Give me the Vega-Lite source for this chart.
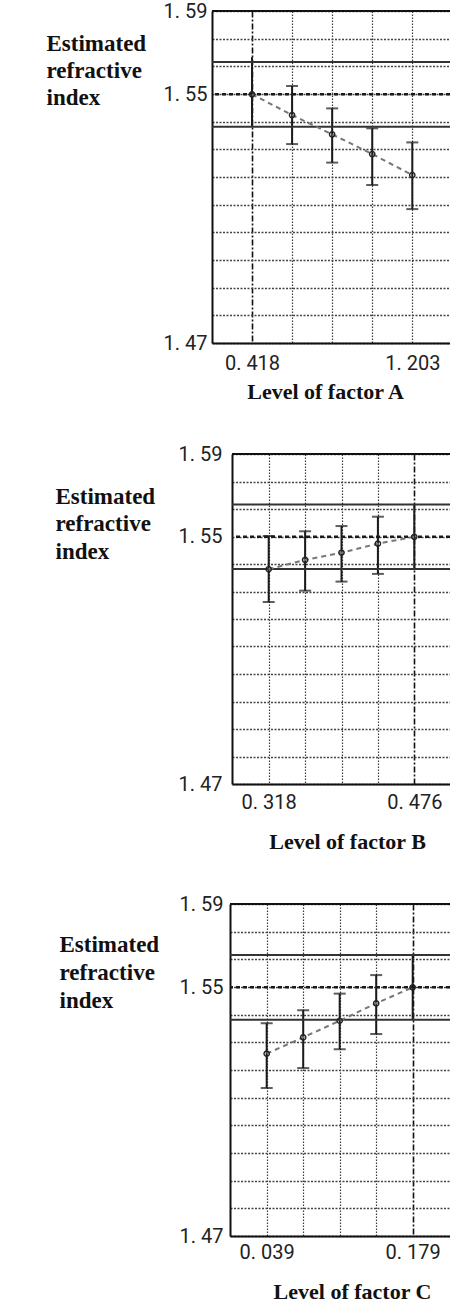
{
  "$schema": "https://vega.github.io/schema/vega-lite/v6.json",
  "background": "white",
  "padding": {"left": 0, "top": 1, "right": 0, "bottom": 0},
  "datasets": {
    "A": [
      {"lvl": 0.418, "est": 1.5599, "lo": 1.5482, "hi": 1.5733, "cur": true},
      {"lvl": 0.61425, "est": 1.5524, "lo": 1.5419, "hi": 1.5629, "cur": false},
      {"lvl": 0.8105, "est": 1.5454, "lo": 1.5352, "hi": 1.5548, "cur": false},
      {"lvl": 1.00675, "est": 1.5383, "lo": 1.5271, "hi": 1.5476, "cur": false},
      {"lvl": 1.203, "est": 1.5307, "lo": 1.5184, "hi": 1.5425, "cur": false}
    ],
    "B": [
      {"lvl": 0.318, "est": 1.5481, "lo": 1.5362, "hi": 1.5602, "cur": false},
      {"lvl": 0.3575, "est": 1.5515, "lo": 1.5403, "hi": 1.5619, "cur": false},
      {"lvl": 0.397, "est": 1.5541, "lo": 1.5436, "hi": 1.5638, "cur": false},
      {"lvl": 0.4365, "est": 1.5574, "lo": 1.5464, "hi": 1.5672, "cur": false},
      {"lvl": 0.476, "est": 1.5599, "lo": 1.5483, "hi": 1.5718, "cur": true}
    ],
    "C": [
      {"lvl": 0.039, "est": 1.5359, "lo": 1.5235, "hi": 1.5469, "cur": false},
      {"lvl": 0.074, "est": 1.5418, "lo": 1.5307, "hi": 1.5516, "cur": false},
      {"lvl": 0.109, "est": 1.5478, "lo": 1.5375, "hi": 1.5576, "cur": false},
      {"lvl": 0.144, "est": 1.5541, "lo": 1.543, "hi": 1.5643, "cur": false},
      {"lvl": 0.179, "est": 1.5599, "lo": 1.5484, "hi": 1.5716, "cur": true}
    ],
    "refs": [
      {"v": 1.5716, "kind": "limit"},
      {"v": 1.5482, "kind": "limit"},
      {"v": 1.5599, "kind": "estimate"},
      {"v": 1.59, "kind": "frame"}
    ]
  },
  "vconcat": [
    {
      "spacing": 0,
      "hconcat": [
        {"width": 46, "height": 1, "data": {"values": [{"s": 1}]}, "mark": {"type": "point", "opacity": 0}, "encoding": {}},
        {
          "width": 238, "height": 332,
          "data": {"name": "A"},
          "layer": [
            {"mark": {"type": "rule", "color": "#1a1a1a", "strokeWidth": 2},
             "encoding": {
               "x": {"field": "lvl", "type": "quantitative", "scale": {"domain": [0.22212, 1.38762], "nice": false, "zero": false},
                     "axis": {"values": [0.418, 0.61425, 0.8105, 1.00675, 1.203], "tickCount": 20,
                              "labelExpr": "datum.value == 0.418 || datum.value == 1.203 ? replace(format(datum.value, '.3f'), '.', '. ') : ''",
                              "labelPadding": 10, "title": "Level of factor A", "titleX": 113, "titleY": 55, "titleBaseline": "alphabetic", "titleAlign": "center",
                              "gridDash": {"condition": {"test": "datum.value == 0.418", "value": [6, 2, 2, 2]}, "value": [1.5, 1.5]},
                              "gridColor": {"condition": {"test": "datum.value == 0.418", "value": "#111"}, "value": "#3a3a3a"},
                              "gridWidth": {"condition": {"test": "datum.value == 0.418", "value": 1.6}, "value": 1.2}}},
               "y": {"field": "lo", "type": "quantitative", "scale": {"domain": [1.47, 1.59], "nice": false, "zero": false},
                     "axis": {"values": [1.47, 1.48, 1.49, 1.5, 1.51, 1.52, 1.53, 1.54, 1.55, 1.5599, 1.57, 1.58, 1.59], "tickCount": 40,
                              "labelExpr": "datum.value == 1.47 || datum.value == 1.5599 || datum.value == 1.59 ? replace(format(floor(datum.value * 100 + 0.001) / 100, '.2f'), '.', '. ') : ''",
                              "labelPadding": 5, "title": ["Estimated", "refractive", "index"], "titleAngle": 0, "titleAlign": "left", "titleBaseline": "alphabetic",
                              "titleX": -166, "titleY": 39, "titleLineHeight": 27, "titleFontSize": 23,
                              "gridWidth": 1.5, "gridDash": [2, 1.5], "gridColor": "#444"}},
               "y2": {"field": "hi"}}},
            {"transform": [{"filter": "!datum.cur"}], "mark": {"type": "tick", "orient": "horizontal", "size": 12, "thickness": 2, "color": "#1a1a1a"},
             "encoding": {"x": {"field": "lvl", "type": "quantitative"}, "y": {"field": "lo", "type": "quantitative"}}},
            {"transform": [{"filter": "!datum.cur"}], "mark": {"type": "tick", "orient": "horizontal", "size": 12, "thickness": 2, "color": "#1a1a1a"},
             "encoding": {"x": {"field": "lvl", "type": "quantitative"}, "y": {"field": "hi", "type": "quantitative"}}},
            {"data": {"name": "refs"}, "transform": [{"filter": "datum.kind == 'limit'"}], "mark": {"type": "rule", "color": "#333", "strokeWidth": 2},
             "encoding": {"y": {"field": "v", "type": "quantitative"}}},
            {"data": {"name": "refs"}, "transform": [{"filter": "datum.kind == 'estimate'"}], "mark": {"type": "rule", "color": "#1a1a1a", "strokeWidth": 2.5, "strokeDash": [4, 3]},
             "encoding": {"y": {"field": "v", "type": "quantitative"}}},
            {"data": {"name": "refs"}, "transform": [{"filter": "datum.kind == 'frame'"}], "mark": {"type": "rule", "color": "#111", "strokeWidth": 2},
             "encoding": {"y": {"field": "v", "type": "quantitative"}}},
            {"mark": {"type": "line", "color": "#777", "strokeDash": [5, 4], "strokeWidth": 2},
             "encoding": {"x": {"field": "lvl", "type": "quantitative"}, "y": {"field": "est", "type": "quantitative"}}},
            {"mark": {"type": "point", "shape": "circle", "filled": false, "size": 28, "strokeWidth": 1.4, "color": "#222", "opacity": 1},
             "encoding": {"x": {"field": "lvl", "type": "quantitative"}, "y": {"field": "est", "type": "quantitative"}}}
          ]
        }
      ]
    },
    {
      "spacing": 0,
      "hconcat": [
        {"width": 55, "height": 1, "data": {"values": [{"s": 1}]}, "mark": {"type": "point", "opacity": 0}, "encoding": {}},
        {
          "width": 218, "height": 330,
          "data": {"name": "B"},
          "layer": [
            {"mark": {"type": "rule", "color": "#1a1a1a", "strokeWidth": 2},
             "encoding": {
               "x": {"field": "lvl", "type": "quantitative", "scale": {"domain": [0.27817, 0.51474], "nice": false, "zero": false},
                     "axis": {"values": [0.318, 0.3575, 0.397, 0.4365, 0.476], "tickCount": 20,
                              "labelExpr": "datum.value == 0.318 || datum.value == 0.476 ? replace(format(datum.value, '.3f'), '.', '. ') : ''",
                              "labelPadding": 8, "title": "Level of factor B", "titleX": 115, "titleY": 64, "titleBaseline": "alphabetic", "titleAlign": "center",
                              "gridDash": {"condition": {"test": "datum.value == 0.476", "value": [6, 2, 2, 2]}, "value": [1.5, 1.5]},
                              "gridColor": {"condition": {"test": "datum.value == 0.476", "value": "#111"}, "value": "#3a3a3a"},
                              "gridWidth": {"condition": {"test": "datum.value == 0.476", "value": 1.6}, "value": 1.2}}},
               "y": {"field": "lo", "type": "quantitative", "scale": {"domain": [1.47, 1.59], "nice": false, "zero": false},
                     "axis": {"values": [1.47, 1.48, 1.49, 1.5, 1.51, 1.52, 1.53, 1.54, 1.55, 1.5599, 1.57, 1.58, 1.59], "tickCount": 40,
                              "labelExpr": "datum.value == 1.47 || datum.value == 1.5599 || datum.value == 1.59 ? replace(format(floor(datum.value * 100 + 0.001) / 100, '.2f'), '.', '. ') : ''",
                              "labelPadding": 10, "title": ["Estimated", "refractive", "index"], "titleAngle": 0, "titleAlign": "left", "titleBaseline": "alphabetic",
                              "titleX": -177, "titleY": 49, "titleLineHeight": 27.5, "titleFontSize": 23,
                              "gridWidth": 1.5, "gridDash": [2, 1.5], "gridColor": "#444"}},
               "y2": {"field": "hi"}}},
            {"transform": [{"filter": "!datum.cur"}], "mark": {"type": "tick", "orient": "horizontal", "size": 12, "thickness": 2, "color": "#1a1a1a"},
             "encoding": {"x": {"field": "lvl", "type": "quantitative"}, "y": {"field": "lo", "type": "quantitative"}}},
            {"transform": [{"filter": "!datum.cur"}], "mark": {"type": "tick", "orient": "horizontal", "size": 12, "thickness": 2, "color": "#1a1a1a"},
             "encoding": {"x": {"field": "lvl", "type": "quantitative"}, "y": {"field": "hi", "type": "quantitative"}}},
            {"data": {"name": "refs"}, "transform": [{"filter": "datum.kind == 'limit'"}], "mark": {"type": "rule", "color": "#333", "strokeWidth": 2},
             "encoding": {"y": {"field": "v", "type": "quantitative"}}},
            {"data": {"name": "refs"}, "transform": [{"filter": "datum.kind == 'estimate'"}], "mark": {"type": "rule", "color": "#1a1a1a", "strokeWidth": 2.5, "strokeDash": [4, 3]},
             "encoding": {"y": {"field": "v", "type": "quantitative"}}},
            {"data": {"name": "refs"}, "transform": [{"filter": "datum.kind == 'frame'"}], "mark": {"type": "rule", "color": "#111", "strokeWidth": 2},
             "encoding": {"y": {"field": "v", "type": "quantitative"}}},
            {"mark": {"type": "line", "color": "#777", "strokeDash": [5, 4], "strokeWidth": 2},
             "encoding": {"x": {"field": "lvl", "type": "quantitative"}, "y": {"field": "est", "type": "quantitative"}}},
            {"mark": {"type": "point", "shape": "circle", "filled": false, "size": 28, "strokeWidth": 1.4, "color": "#222", "opacity": 1},
             "encoding": {"x": {"field": "lvl", "type": "quantitative"}, "y": {"field": "est", "type": "quantitative"}}}
          ]
        }
      ]
    },
    {
      "spacing": 0,
      "hconcat": [
        {"width": 59, "height": 1, "data": {"values": [{"s": 1}]}, "mark": {"type": "point", "opacity": 0}, "encoding": {}},
        {
          "width": 220, "height": 332,
          "data": {"name": "C"},
          "layer": [
            {"mark": {"type": "rule", "color": "#1a1a1a", "strokeWidth": 2},
             "encoding": {
               "x": {"field": "lvl", "type": "quantitative", "scale": {"domain": [0.00381, 0.21477], "nice": false, "zero": false},
                     "axis": {"values": [0.039, 0.074, 0.109, 0.144, 0.179], "tickCount": 20,
                              "labelExpr": "datum.value == 0.039 || datum.value == 0.179 ? replace(format(datum.value, '.3f'), '.', '. ') : ''",
                              "labelPadding": 6, "title": "Level of factor C", "titleX": 122, "titleY": 62, "titleBaseline": "alphabetic", "titleAlign": "center",
                              "gridDash": {"condition": {"test": "datum.value == 0.179", "value": [6, 2, 2, 2]}, "value": [1.5, 1.5]},
                              "gridColor": {"condition": {"test": "datum.value == 0.179", "value": "#111"}, "value": "#3a3a3a"},
                              "gridWidth": {"condition": {"test": "datum.value == 0.179", "value": 1.6}, "value": 1.2}}},
               "y": {"field": "lo", "type": "quantitative", "scale": {"domain": [1.47, 1.59], "nice": false, "zero": false},
                     "axis": {"values": [1.47, 1.48, 1.49, 1.5, 1.51, 1.52, 1.53, 1.54, 1.55, 1.5599, 1.57, 1.58, 1.59], "tickCount": 40,
                              "labelExpr": "datum.value == 1.47 || datum.value == 1.5599 || datum.value == 1.59 ? replace(format(floor(datum.value * 100 + 0.001) / 100, '.2f'), '.', '. ') : ''",
                              "labelPadding": 7, "title": ["Estimated", "refractive", "index"], "titleAngle": 0, "titleAlign": "left", "titleBaseline": "alphabetic",
                              "titleX": -171, "titleY": 47, "titleLineHeight": 28, "titleFontSize": 23,
                              "gridWidth": 1.5, "gridDash": [2, 1.5], "gridColor": "#444"}},
               "y2": {"field": "hi"}}},
            {"transform": [{"filter": "!datum.cur"}], "mark": {"type": "tick", "orient": "horizontal", "size": 12, "thickness": 2, "color": "#1a1a1a"},
             "encoding": {"x": {"field": "lvl", "type": "quantitative"}, "y": {"field": "lo", "type": "quantitative"}}},
            {"transform": [{"filter": "!datum.cur"}], "mark": {"type": "tick", "orient": "horizontal", "size": 12, "thickness": 2, "color": "#1a1a1a"},
             "encoding": {"x": {"field": "lvl", "type": "quantitative"}, "y": {"field": "hi", "type": "quantitative"}}},
            {"data": {"name": "refs"}, "transform": [{"filter": "datum.kind == 'limit'"}], "mark": {"type": "rule", "color": "#333", "strokeWidth": 2},
             "encoding": {"y": {"field": "v", "type": "quantitative"}}},
            {"data": {"name": "refs"}, "transform": [{"filter": "datum.kind == 'estimate'"}], "mark": {"type": "rule", "color": "#1a1a1a", "strokeWidth": 2.5, "strokeDash": [4, 3]},
             "encoding": {"y": {"field": "v", "type": "quantitative"}}},
            {"data": {"name": "refs"}, "transform": [{"filter": "datum.kind == 'frame'"}], "mark": {"type": "rule", "color": "#111", "strokeWidth": 2},
             "encoding": {"y": {"field": "v", "type": "quantitative"}}},
            {"mark": {"type": "line", "color": "#777", "strokeDash": [5, 4], "strokeWidth": 2},
             "encoding": {"x": {"field": "lvl", "type": "quantitative"}, "y": {"field": "est", "type": "quantitative"}}},
            {"mark": {"type": "point", "shape": "circle", "filled": false, "size": 28, "strokeWidth": 1.4, "color": "#222", "opacity": 1},
             "encoding": {"x": {"field": "lvl", "type": "quantitative"}, "y": {"field": "est", "type": "quantitative"}}}
          ]
        }
      ]
    }
  ],
  "spacing": 42,
  "resolve": {"scale": {"x": "independent", "y": "independent"}},
  "config": {
    "view": {"stroke": null},
    "axis": {
      "labelFont": "Roboto", "labelFontSize": 20, "labelColor": "#222", "labelOverlap": false, "labelFlush": false,
      "titleFont": "Liberation Serif", "titleFontSize": 22, "titleFontWeight": "bold", "titleColor": "#111",
      "ticks": false, "grid": true, "gridColor": "#3a3a3a", "gridOpacity": 1, "gridDash": [2, 1.5], "gridWidth": 1.4,
      "domain": true, "domainColor": "#111", "domainWidth": 2
    }
  }
}
